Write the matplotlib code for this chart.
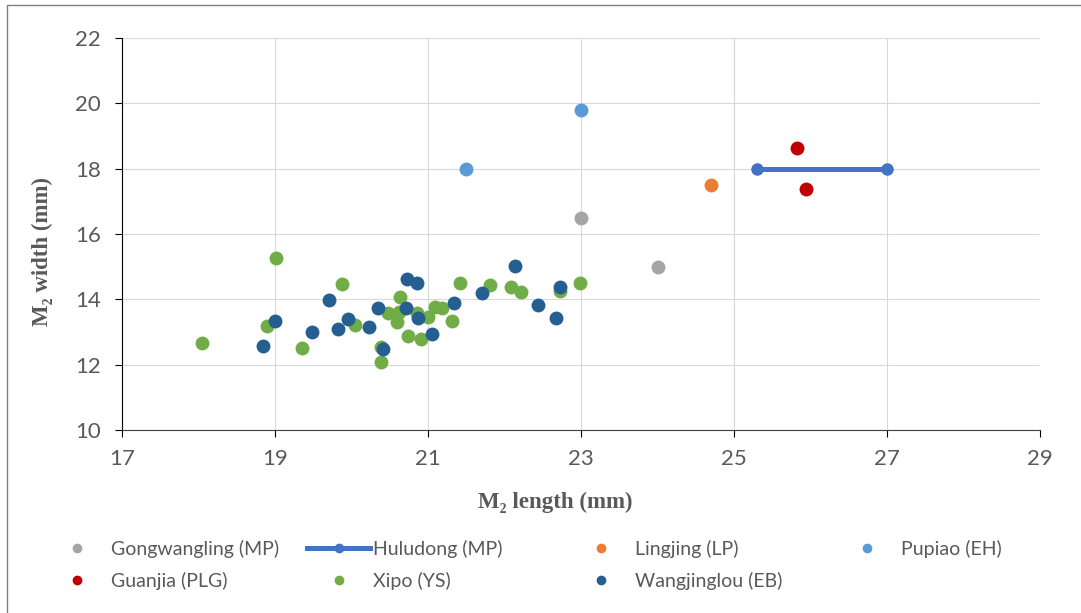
import matplotlib.pyplot as plt
from matplotlib.lines import Line2D
from matplotlib.patches import Rectangle

# data
gong_x = [23.0, 24.0]
gong_y = [16.5, 15.0]
hulu_x = [25.3, 27.0]
hulu_y = [18.0, 18.0]
ling_x = [24.7]
ling_y = [17.5]
pupiao_x = [21.5, 23.0]
pupiao_y = [18.0, 19.8]
guanjia_x = [25.82, 25.94]
guanjia_y = [18.63, 17.37]
xipo_x = [18.05, 18.90, 19.01, 19.35, 19.87, 20.04, 20.39, 20.39, 20.48, 20.60,
          20.63, 20.62, 20.74, 20.85, 20.91, 21.00, 21.09, 21.18, 21.31, 21.42,
          21.81, 22.09, 22.21, 22.72, 22.99]
xipo_y = [12.66, 13.19, 15.26, 12.52, 14.47, 13.21, 12.53, 12.09, 13.58, 13.31,
          14.08, 13.60, 12.88, 13.57, 12.80, 13.47, 13.77, 13.72, 13.35, 14.49,
          14.44, 14.37, 14.23, 14.27, 14.49]
wang_x = [18.84, 19.00, 19.49, 19.71, 19.83, 19.95, 20.23, 20.35, 20.41, 20.71,
          20.72, 20.85, 20.87, 21.05, 21.34, 21.70, 22.14, 22.44, 22.67, 22.73]
wang_y = [12.58, 13.34, 13.01, 13.98, 13.08, 13.40, 13.16, 13.74, 12.47, 13.72,
          14.62, 14.51, 13.42, 12.94, 13.88, 14.20, 15.02, 13.83, 13.42, 14.39]

labels = ['Gongwangling (MP)', 'Huludong (MP)', 'Lingjing (LP)', 'Pupiao (EH)',
          'Guanjia (PLG)', 'Xipo (YS)', 'Wangjinglou (EB)']
colors = ['#A5A5A5', '#4472C4', '#ED7D31', '#5B9BD5', '#C00000', '#70AD47', '#255E91']

W, H = 1081, 613
fig = plt.figure(figsize=(W / 100, H / 100), dpi=100)
ax = fig.add_axes([122 / W, 1 - 430 / H, (1040 - 122) / W, (430 - 38) / H])

txt = '#595959'
font = 'Lato'

ax.plot(gong_x, gong_y, 'o', color=colors[0], ms=10, mew=0, zorder=3)
ax.plot(hulu_x, hulu_y, '-o', color=colors[1], lw=3.6, ms=9, mew=0, zorder=3)
ax.plot(ling_x, ling_y, 'o', color=colors[2], ms=10, mew=0, zorder=3)
ax.plot(pupiao_x, pupiao_y, 'o', color=colors[3], ms=10, mew=0, zorder=3)
ax.plot(guanjia_x, guanjia_y, 'o', color=colors[4], ms=10, mew=0, zorder=3)
ax.plot(xipo_x, xipo_y, 'o', color=colors[5], ms=10, mew=0, zorder=3)
ax.plot(wang_x, wang_y, 'o', color=colors[6], ms=10, mew=0, zorder=3)

ax.set_xlim(17, 29)
ax.set_ylim(10, 22)
ax.set_xticks(range(17, 30, 2))
ax.set_yticks(range(10, 23, 2))
ax.grid(True, color='#D9D9D9', lw=0.8)
ax.set_axisbelow(True)
for s in ['top', 'right']:
    ax.spines[s].set_visible(False)
ax.spines['left'].set_color('black')
ax.spines['bottom'].set_color('#404040')
ax.tick_params(direction='out', length=5, width=0.8, color='black', labelcolor=txt,
               labelsize=16)
ax.tick_params(axis='x', pad=9)
ax.tick_params(axis='y', pad=10)
for lab in ax.get_xticklabels() + ax.get_yticklabels():
    lab.set_fontfamily(font)

lblfont = dict(family=['Liberation Serif', 'DejaVu Serif'], weight='bold', size=16.5, color=txt)
fig.text(555 / W, 1 - 502 / H, 'M₂ length (mm)', ha='center', va='center', **lblfont)
fig.text(42 / W, 1 - 251 / H, 'M₂ width (mm)', ha='center', va='center', rotation=90, **lblfont)

# legend, one entry per slot
col_x = [45, 307, 569, 835]
row_y = [549, 581]
fs = 14
fs_px = fs * 100 / 72
for i, (name, c) in enumerate(zip(labels, colors)):
    if i == 1:
        h = Line2D([], [], color=c, lw=3.6, marker='o', ms=7, mew=0)
    else:
        h = Line2D([], [], color=c, ls='none', marker='o', ms=7, mew=0)
    r, k = divmod(i, 4)
    leg = fig.legend(handles=[h], labels=[name], loc='center left',
                     bbox_to_anchor=(col_x[k] / W, 1 - row_y[r] / H),
                     frameon=False, borderpad=0, borderaxespad=0,
                     handlelength=63 / fs_px, handletextpad=3 / fs_px,
                     prop={'family': font, 'size': fs})
    for t in leg.get_texts():
        t.set_color(txt)

# chart border (top and left edges visible in the reference)
fig.patches.append(Rectangle((7 / W, -0.1), 1.2, 1 - 5 / H + 0.1, transform=fig.transFigure,
                             fill=False, edgecolor='#7F7F7F', lw=1))

fig.savefig('out.png', dpi=100)
